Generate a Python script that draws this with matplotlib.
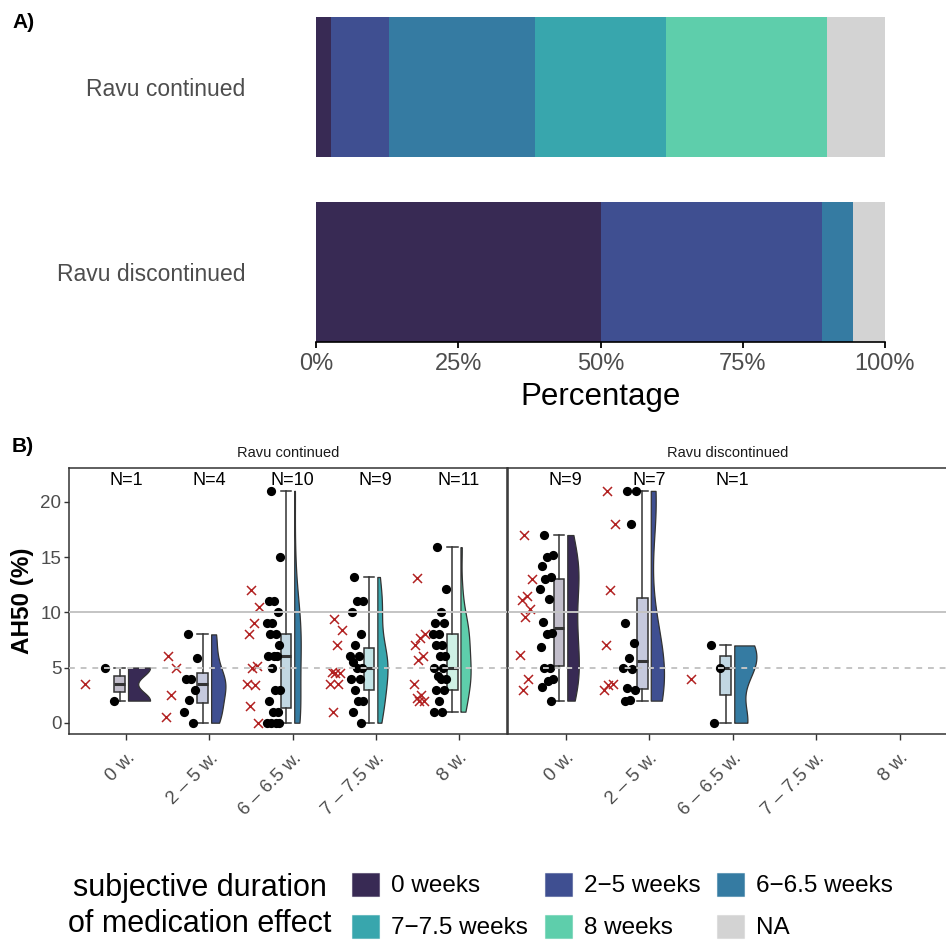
import numpy as np
import matplotlib
matplotlib.use("Agg")
import matplotlib.pyplot as plt
from matplotlib import cbook, mlab
from matplotlib.colors import to_rgba
from matplotlib.patches import Patch

plt.rcParams['font.family'] = ['Liberation Sans', 'DejaVu Sans']

# duration groups and their colours
groups = ["0 weeks", "2\u22125 weeks", "6\u22126.5 weeks", "7\u22127.5 weeks", "8 weeks", "NA"]
colors = ["#382A54", "#3F4F91", "#357BA2", "#38A6AD", "#5ECEAB", "#D3D3D3"]
tick_labels = ["0 w.", "2 \u2013 5 w.", "6 \u2013 6.5 w.", "7 \u2013 7.5 w.", "8 w."]
facets = ["Ravu continued", "Ravu discontinued"]

# panel A: patients per duration group
counts_cont = [1, 4, 10, 9, 11, 4]
counts_disc = [9, 7, 1, 0, 0, 1]

# panel B: AH50 measurements (dots) and patient means (crosses)
cont_dots = [
    [5, 2],
    [8, 5.9, 4, 4, 3, 2.1, 1, 0],
    [21, 15, 11, 11, 10, 9, 9, 8, 8, 7, 6, 6, 6, 5, 3, 3, 2, 1, 1, 0, 0, 0, 0],
    [13.2, 11, 11, 10, 8, 7, 6, 6, 5.5, 5, 5, 4, 4, 3, 2, 2, 1, 0],
    [15.9, 12.1, 10, 9, 9, 8, 8, 7, 7, 6, 6, 5, 5, 4.2, 4, 4, 3, 3, 2, 1, 1],
]
cont_means = [
    [3.5],
    [6, 5, 2.5, 0.5],
    [12, 10.5, 9, 8, 5.1, 5, 3.5, 3.4, 1.5, 0],
    [9.4, 8.4, 7, 4.6, 4.5, 4.5, 3.5, 3.5, 1],
    [13.1, 8, 7.7, 7, 6, 5.7, 3.5, 2.5, 2.2, 2, 2],
]
disc_dots = [
    [17, 15.2, 15, 14.2, 13.2, 13, 12.1, 11.2, 9.1, 8.1, 8, 6.9, 5, 5, 4, 3.8, 3.2, 2],
    [21, 21, 18, 9, 7.2, 5.9, 5, 4.9, 3.1, 3, 2.1, 2],
    [7, 5, 0],
    [],
    [],
]
disc_means = [
    [17, 13, 11.5, 11.1, 10.3, 9.6, 6.1, 4, 3],
    [21, 18, 12, 7, 3.5, 3.4, 3],
    [4],
    [],
    [],
]
# box stats: (low whisker, q1, median, q3, high whisker)
cont_box = [(2, 2.75, 3.5, 4.25, 5), (0, 1.8, 3.5, 4.5, 8), (0, 1.3, 6, 8, 21),
            (0, 3, 5, 6.8, 13.2), (1, 3, 5, 8, 15.9)]
disc_box = [(2, 5.1, 8.6, 13, 17), (2, 3.05, 5.55, 11.3, 21), (0, 2.5, 5, 6, 7)]
n_cont = [1, 4, 10, 9, 11]
n_disc = [9, 7, 1]

W, H = 946, 940
fig = plt.figure(figsize=(W / 100, H / 100), dpi=100)

# ---------------- panel A ----------------
axA = fig.add_axes([316 / W, 1 - 342 / H, 569 / W, 325 / H])
for row, counts in [(1, counts_cont), (0, counts_disc)]:
    pct = np.array(counts) / sum(counts)
    lefts = np.concatenate([[0], np.cumsum(pct)[:-1]])
    axA.barh([row] * len(pct), pct, left=lefts, height=0.755, color=colors)
axA.set_xlim(0, 1)
axA.set_ylim(-0.3775, 1.3775)
for s in ["left", "top", "right"]:
    axA.spines[s].set_visible(False)
axA.spines["bottom"].set_linewidth(1.2)
axA.set_xticks([0, 0.25, 0.5, 0.75, 1], ["0%", "25%", "50%", "75%", "100%"])
axA.set_yticks([1, 0], facets)
axA.tick_params(axis="x", length=4, width=1.3, labelsize=17, labelcolor="#4D4D4D", pad=4)
axA.tick_params(axis="y", length=0, labelsize=16.5, labelcolor="#4D4D4D", pad=51)
axA.set_xlabel("Percentage", fontsize=22.5, labelpad=5)
fig.text(12 / W, 1 - 22 / H, "A)", fontsize=15, weight="bold", va="center")

# ---------------- panel B ----------------
def bw_nrd0(kde):
    x = kde.dataset[0]
    sd = np.std(x, ddof=1)
    q75, q25 = np.percentile(x, [75, 25])
    lo = min(sd, (q75 - q25) / 1.34)
    if lo <= 0:
        lo = sd
    return 0.9 * lo * len(x) ** -0.2 / sd


def kde_eval(x, coords):
    return mlab.GaussianKDE(x, bw_nrd0).evaluate(coords)


def spread(n, width):
    k = np.arange(n)
    return ((k * 0.618034 + 0.3) % 1 - 0.5) * width


axL = fig.add_axes([69 / W, 1 - 734.3 / H, 438 / W, 266.6 / H])
axR = fig.add_axes([508 / W, 1 - 734.3 / H, 440 / W, 266.6 / H])
line_col = "#333333"

for ax, title, dots, means, boxes, ns in [
        (axL, facets[0], cont_dots, cont_means, cont_box, n_cont),
        (axR, facets[1], disc_dots, disc_means, disc_box, n_disc)]:
    idx = [i for i, d in enumerate(dots) if len(d) > 0]
    # half violins, area scaled within the facet
    vstats = cbook.violin_stats([np.array(dots[i], float) for i in idx], kde_eval, points=200)
    peaks = [s["vals"].max() for s in vstats]
    widths = [2 * 0.265 * p / max(peaks) for p in peaks]
    parts = ax.violin(vstats, positions=[i + 1 + 0.02 for i in idx], widths=widths,
                      showextrema=False, side="high")
    for body, i in zip(parts["bodies"], idx):
        body.set_facecolor(colors[i])
        body.set_edgecolor(line_col)
        body.set_linewidth(0.9)
        body.set_alpha(1)
        body.set_zorder(2)

    # boxes
    stats = [dict(whislo=b[0], q1=b[1], med=b[2], q3=b[3], whishi=b[4]) for b in boxes]
    bp = ax.bxp(stats, positions=[i + 1 - 0.08 for i in range(len(boxes))], widths=0.13,
                capwidths=0.13, patch_artist=True, showfliers=False, manage_ticks=False,
                boxprops=dict(edgecolor=line_col, linewidth=1.1),
                medianprops=dict(color=line_col, linewidth=2.2),
                whiskerprops=dict(color=line_col, linewidth=1.1),
                capprops=dict(color=line_col, linewidth=1.1))
    for patch, col in zip(bp["boxes"], colors):
        patch.set_facecolor(to_rgba(col, 0.3))

    # measurements and patient means
    for i in idx:
        c = i + 1
        ax.scatter(c - 0.225 + spread(len(dots[i]), 0.17), dots[i], s=44, color="black",
                   zorder=4, linewidths=0)
        ax.scatter(c - 0.47 + spread(len(means[i]), 0.15), means[i], marker="x", s=42,
                   color="#B22222", linewidths=1.1, zorder=4)

    for i, n in enumerate(ns):
        ax.text(i + 1, 21.9, "N=%d" % n, ha="center", va="center", fontsize=13)

    ax.axhline(10, color="#C4C4C4", lw=1.4, zorder=10)
    ax.axhline(5, color="#C4C4C4", lw=1.4, ls=(0, (3, 3)), zorder=10)

    ax.set_xlim(0.31, 5.58)
    ax.set_ylim(-1.05, 23.1)
    ax.set_xticks(range(1, 6))
    ax.set_xticklabels(tick_labels, rotation=45, ha="right", rotation_mode="anchor")
    ax.tick_params(axis="x", length=4, width=1, color=line_col, labelsize=13.5,
                   labelcolor="#4D4D4D", pad=7)
    for s in ax.spines.values():
        s.set_color(line_col)
        s.set_linewidth(1.1)
    ax.text(0.5, 1.056, title, transform=ax.transAxes, ha="center", va="center",
            fontsize=10.5, color="#1A1A1A")

axL.set_yticks([0, 5, 10, 15, 20])
axL.tick_params(axis="y", length=3.5, width=1, color=line_col, labelsize=13.5,
                labelcolor="#4D4D4D", pad=2)
axR.tick_params(axis="y", left=False, labelleft=False)
fig.text(22 / W, 1 - 601 / H, "AH50 (%)", rotation=90, ha="center", va="center",
         fontsize=17.5, weight="bold")
fig.text(12 / W, 1 - 447 / H, "B)", fontsize=15, weight="bold", va="center")

# ---------------- legend ----------------
handles = [Patch(facecolor=c, edgecolor=to_rgba(c, 0.5), linewidth=0.8) for c in colors]
order = [0, 3, 1, 4, 2, 5]
fig.legend([handles[i] for i in order], [groups[i] for i in order], ncol=3,
           loc="center left", bbox_to_anchor=(340 / W, 1 - 906 / H), frameon=False,
           fontsize=17.5, handlelength=1.1, handleheight=1.1, handletextpad=0.5,
           columnspacing=0.7, labelspacing=0.7, borderpad=0)
fig.text(200 / W, 1 - 906 / H, "subjective duration\nof medication effect", ha="center",
         va="center", multialignment="center", fontsize=22, linespacing=1.3)

fig.savefig("out.png", dpi=100, facecolor="white")
